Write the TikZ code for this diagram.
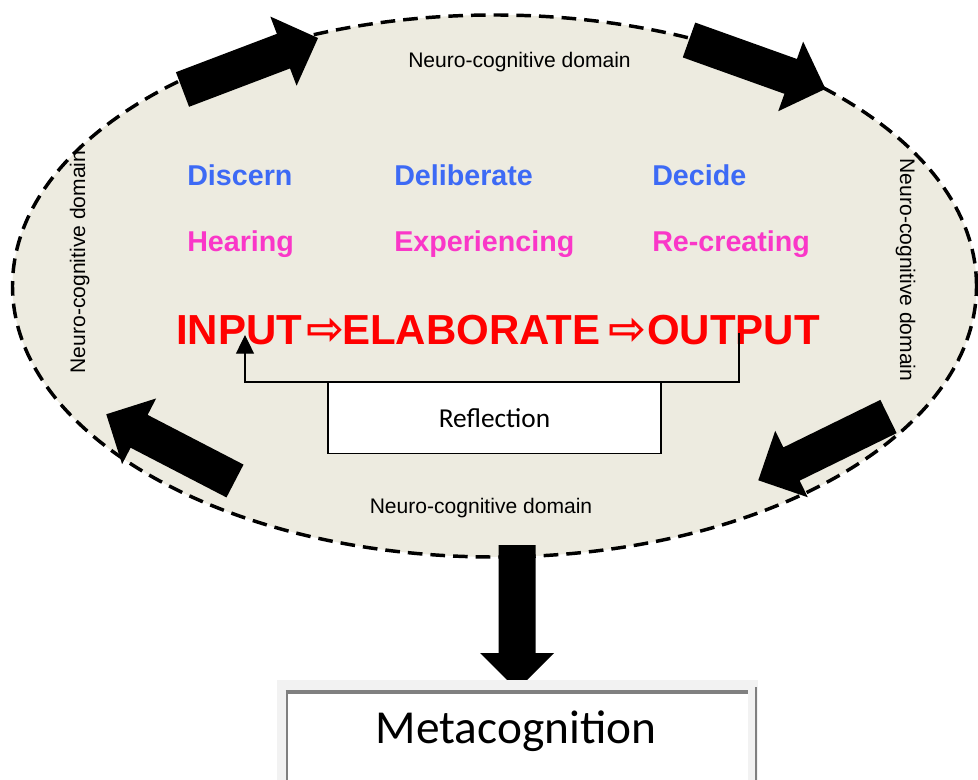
\documentclass[tikz,border=0pt]{standalone}
\usepackage{fontspec}
\setmainfont{Liberation Sans}
\newfontfamily\carlito{Carlito}
\newfontfamily\dejavu{DejaVu Sans}
\usetikzlibrary{shapes.geometric,arrows.meta}

\definecolor{brainfill}{RGB}{237,235,224}
\definecolor{termblue}{RGB}{61,106,245}
\definecolor{termpink}{RGB}{250,55,200}
\definecolor{metaframe}{RGB}{242,242,242}

% fat block arrow: #1 tail point, #2 angle
\newcommand{\bigarrow}[2]{%
    \fill[black, shift={#1}, rotate=#2] (0,-18.5) -- (108,-18.5) -- (108,-37) -- (145,0)
        -- (108,37) -- (108,18.5) -- (0,18.5) -- cycle;}

\begin{document}
\begin{tikzpicture}[x=0.75pt, y=-0.75pt,
    ncellipse/.style={ellipse, draw=black, line width=2.6pt, dash pattern=on 11pt off 6pt,
        fill=brainfill, minimum width=723pt, minimum height=406.5pt, inner sep=0pt},
    nclabel/.style={font=\fontsize{15.8}{18}\selectfont, inner sep=0pt, anchor=base},
    blueword/.style={font=\fontsize{21.5}{24}\selectfont\bfseries, text=termblue, inner sep=0pt, anchor=base west},
    pinkword/.style={font=\fontsize{21.5}{24}\selectfont\bfseries, text=termpink, inner sep=0pt, anchor=base west},
    flowword/.style={font=\fontsize{31.5}{36}\selectfont\bfseries, text=red, inner sep=0pt, anchor=base west},
    flowarrow/.style={font=\dejavu\fontsize{34}{34}\selectfont\bfseries, text=red, inner sep=0pt},
    fbline/.style={line width=0.9pt, -{Triangle[length=14pt, width=13.5pt]}},
    reflectbox/.style={draw=black, line width=1.1pt, fill=white, minimum width=250pt, minimum height=53pt,
        inner sep=0pt, font=\carlito\fontsize{20.5}{24}\selectfont},
    metatext/.style={font=\carlito\fontsize{35.5}{40}\selectfont, inner sep=0pt, anchor=base}]

    \useasboundingbox (0,0) rectangle (978,780);

    % Domain
    \node[ncellipse] (brain) at (494.5,286) {};
    \node[nclabel] (nctop) at (519.5,68) {Neuro-cognitive domain};
    \node[nclabel] (ncbottom) at (481,513) {Neuro-cognitive domain};
    \node[nclabel, rotate=90] (ncleft) at (85,262) {Neuro-cognitive domain};
    \node[nclabel, rotate=-90] (ncright) at (900,270) {Neuro-cognitive domain};

    % Arrows round the domain
    \bigarrow{(182.5,89.5)}{20.8}
    \bigarrow{(689,40)}{-19.7}
    \bigarrow{(888.5,416.5)}{-153.9}
    \bigarrow{(235,481)}{152.6}

    % Words
    \node[blueword] (discern) at (187,186) {Discern};
    \node[blueword] (deliberate) at (394,186) {Deliberate};
    \node[blueword] (decide) at (652,186) {Decide};
    \node[pinkword] (hearing) at (187,252) {Hearing};
    \node[pinkword] (experiencing) at (394,252) {Experiencing};
    \node[pinkword] (recreating) at (652,252) {Re-creating};

    % Flow
    \node[flowword] (input) at (176,345) {INPUT};
    \node[flowarrow] (arrowa) at (325,331) {⇨};
    \node[flowword] (elaborate) at (342,345) {ELABORATE};
    \node[flowarrow] (arrowb) at (627,331) {⇨};
    \node[flowword] (output) at (647,345) {OUTPUT};

    % Reflection loop
    \coordinate (fbout) at (739,333);
    \coordinate (fbin) at (245,335);
    \draw[fbline] (fbout) -- ++(0,49) -| (fbin);
    \node[reflectbox] (reflection) at (494.5,418) {Reflection};

    % Down to metacognition
    \bigarrow{(517,545)}{-90}
    \fill[metaframe] (277,680) rectangle (758,790);
    \fill[white] (287,692) rectangle (748,790);
    \draw[gray, line width=3pt] (285.5,692) -- (748,692);
    \draw[gray, line width=1.6pt] (287,692) -- (287,790);
    \draw[gray, line width=1.6pt] (756,687) -- (756,790);
    \node[metatext] (meta) at (516,743) {Metacognition};
\end{tikzpicture}
\end{document}
